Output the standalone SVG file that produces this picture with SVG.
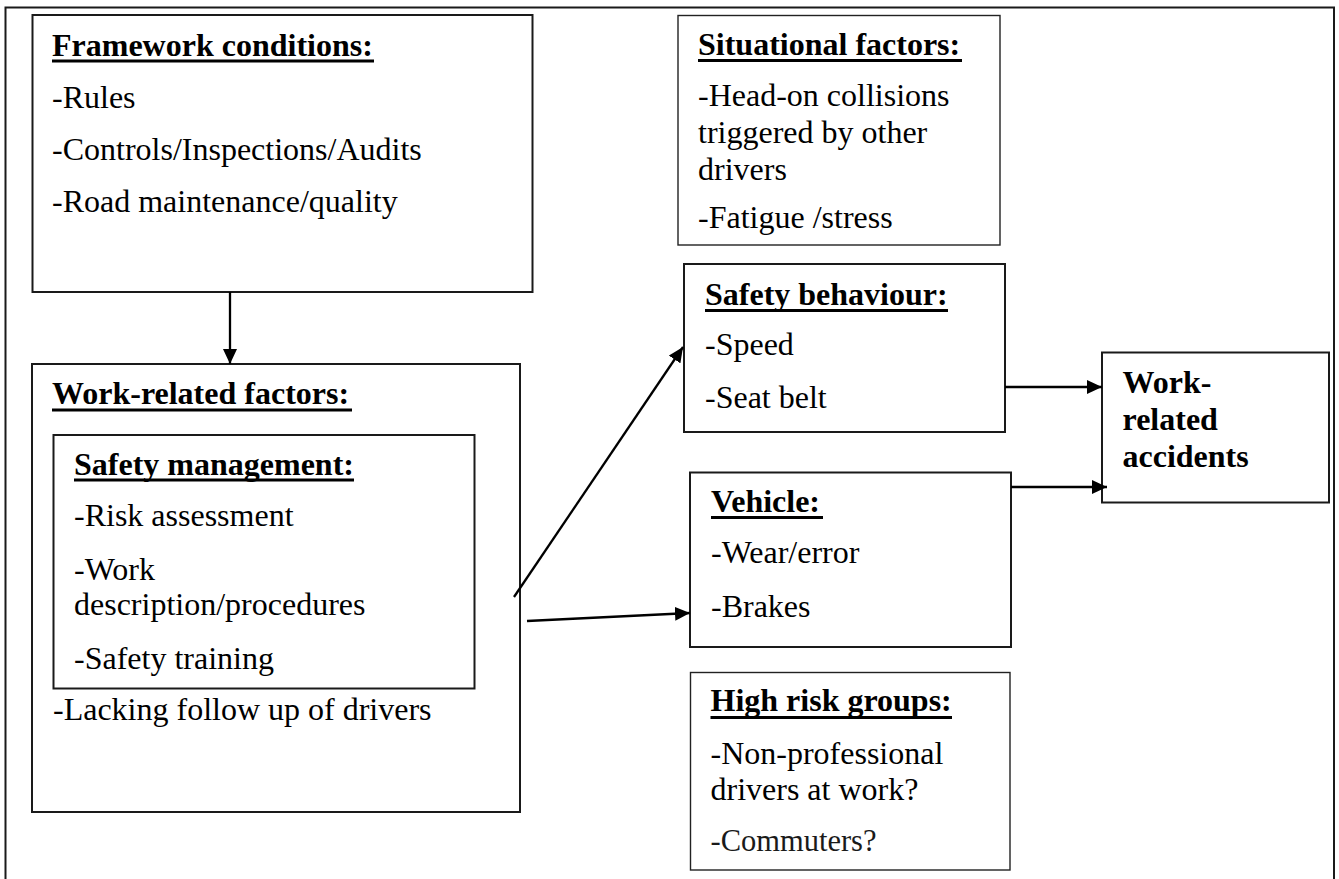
<svg xmlns="http://www.w3.org/2000/svg" width="1339" height="879" viewBox="0 0 1339 879">
<defs>
<style>
.box{fill:#fff;stroke:#1a1a1a;stroke-width:2}
.thin{fill:#fff;stroke:#222;stroke-width:1.4}
.t{font-family:"Liberation Serif","Times New Roman",serif;font-size:32px;fill:#000}
.b{font-family:"Liberation Serif","Times New Roman",serif;font-size:32px;font-weight:bold;fill:#000}
.ul{stroke:#000;stroke-width:3}
.c{stroke:#000;stroke-width:2.3;fill:none;marker-end:url(#ah)}
</style>
<marker id="ah" markerUnits="userSpaceOnUse" markerWidth="16" markerHeight="14" refX="15" refY="7" orient="auto">
<path d="M0,0 L15,7 L0,14 z" fill="#000"/>
</marker>
</defs>
<rect width="1339" height="879" fill="#fff"/>
<path d="M5.5,879 V7.5 H1334 V879" fill="none" stroke="#1a1a1a" stroke-width="2"/>

<g id="framework">
<rect class="box" x="32.5" y="15" width="500" height="277"/>
<text class="b" x="52" y="56">Framework conditions:</text>
<line class="ul" x1="52" y1="61" x2="374" y2="61"/>
<text class="t" x="52" y="108">-Rules</text>
<text class="t" x="52" y="160">-Controls/Inspections/Audits</text>
<text class="t" x="52" y="212">-Road maintenance/quality</text>
</g>

<g id="work-related">
<rect class="box" x="32" y="364" width="488" height="448"/>
<text class="b" x="52" y="404">Work-related factors:</text>
<line class="ul" x1="52" y1="410" x2="352" y2="410"/>
<text class="t" x="53" y="720">-Lacking follow up of drivers</text>
</g>

<g id="safety-management">
<rect class="box" x="53.5" y="435" width="421" height="253.5"/>
<text class="b" x="74" y="475">Safety management:</text>
<line class="ul" x1="74" y1="480" x2="354" y2="480"/>
<text class="t" x="74" y="526">-Risk assessment</text>
<text class="t" x="74" y="580">-Work</text>
<text class="t" x="74" y="615">description/procedures</text>
<text class="t" x="74" y="669">-Safety training</text>
</g>

<g id="situational">
<rect class="thin" x="678" y="15.5" width="322" height="229.5"/>
<text class="b" x="698" y="55">Situational factors:</text>
<line class="ul" x1="698" y1="60.5" x2="962" y2="60.5"/>
<text class="t" x="698" y="106">-Head-on collisions</text>
<text class="t" x="698" y="143">triggered by other</text>
<text class="t" x="698" y="180">drivers</text>
<text class="t" x="698" y="228">-Fatigue /stress</text>
</g>

<g id="safety-behaviour">
<rect class="box" x="684" y="264" width="321" height="168"/>
<text class="b" x="705" y="305">Safety behaviour:</text>
<line class="ul" x1="705" y1="310.5" x2="948" y2="310.5"/>
<text class="t" x="705" y="355">-Speed</text>
<text class="t" x="705" y="408">-Seat belt</text>
</g>

<g id="vehicle">
<rect class="box" x="690" y="472.5" width="321" height="174.5"/>
<text class="b" x="711" y="512">Vehicle:</text>
<line class="ul" x1="711" y1="517.5" x2="823" y2="517.5"/>
<text class="t" x="711" y="563">-Wear/error</text>
<text class="t" x="711" y="617">-Brakes</text>
</g>

<g id="high-risk">
<rect class="thin" x="690.5" y="672.5" width="319.5" height="197.5"/>
<text class="b" x="710.5" y="711">High risk groups:</text>
<line class="ul" x1="710.5" y1="717.5" x2="952" y2="717.5"/>
<text class="t" x="710.5" y="764">-Non-professional</text>
<text class="t" x="710.5" y="800">drivers at work?</text>
<text class="t" x="710.5" y="851" style="font-size:30.5px;fill:#1a1a1a">-Commuters?</text>
</g>

<g id="accidents">
<rect class="box" x="1102" y="352.5" width="227" height="150"/>
<text class="b" x="1122.5" y="392.5">Work-</text>
<text class="b" x="1122.5" y="430">related</text>
<text class="b" x="1122.5" y="467">accidents</text>
</g>

<g id="connectors">
<line class="c" x1="230" y1="292" x2="230" y2="364"/>
<line class="c" x1="514" y1="597" x2="683" y2="347"/>
<line class="c" x1="527" y1="621" x2="690" y2="613"/>
<line class="c" x1="1005" y1="387" x2="1102" y2="387"/>
<line class="c" x1="1011" y1="487" x2="1107" y2="487"/>
</g>
</svg>
